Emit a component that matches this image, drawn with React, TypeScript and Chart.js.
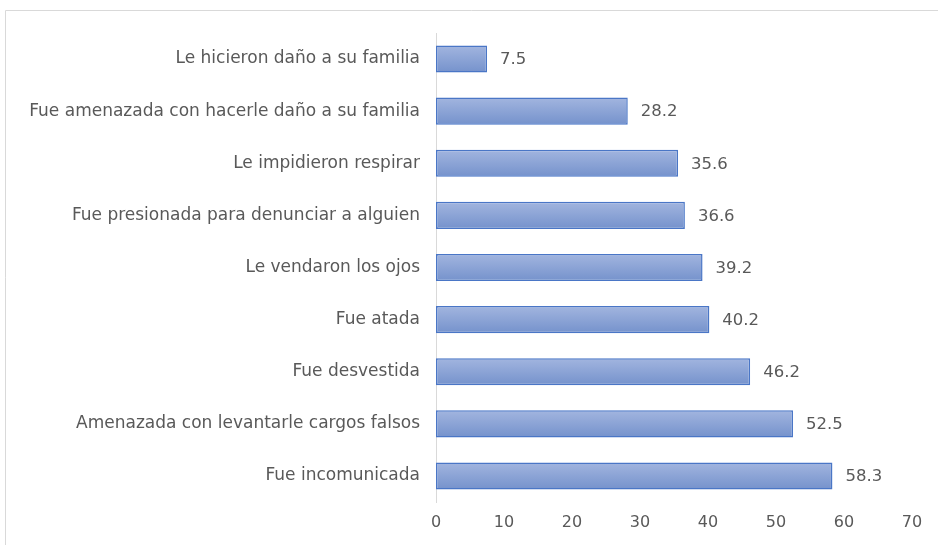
import React, { useEffect, useRef } from "react";
import { Chart, registerables } from "chart.js";

Chart.register(...registerables);

const categories = [
  "Le hicieron daño a su familia",
  "Fue amenazada con hacerle daño a su familia",
  "Le impidieron respirar",
  "Fue presionada para denunciar a alguien",
  "Le vendaron los ojos",
  "Fue atada",
  "Fue desvestida",
  "Amenazada con levantarle cargos falsos",
  "Fue incomunicada",
];
const values = [7.5, 28.2, 35.6, 36.6, 39.2, 40.2, 46.2, 52.5, 58.3];
const xTicks = [0, 10, 20, 30, 40, 50, 60, 70];

const FONT = "'DejaVu Sans', 'Open Sans', sans-serif";
const TEXT = "#595959";

const framePlugin = {
  id: "frame",
  beforeDraw(chart: any) {
    const ctx = chart.ctx;
    ctx.save();
    ctx.strokeStyle = "#d9d9d9";
    ctx.lineWidth = 1;
    ctx.beginPath();
    ctx.moveTo(5.5, chart.height);
    ctx.lineTo(5.5, 10.5);
    ctx.lineTo(chart.width, 10.5);
    ctx.stroke();
    ctx.restore();
  },
};

const gradientPlugin = {
  id: "barGradient",
  beforeDatasetsDraw(chart: any) {
    const ctx = chart.ctx;
    const meta = chart.getDatasetMeta(0);
    meta.data.forEach((el: any) => {
      const top = el.y - el.height / 2;
      const bottom = el.y + el.height / 2;
      const g = ctx.createLinearGradient(0, top, 0, bottom);
      g.addColorStop(0, "#a2b5df");
      g.addColorStop(1, "#7592cc");
      el.options = Object.assign({}, el.options, { backgroundColor: g });
    });
  },
};

const labelPlugin = {
  id: "valueLabels",
  afterDatasetsDraw(chart: any) {
    const ctx = chart.ctx;
    const meta = chart.getDatasetMeta(0);
    ctx.save();
    ctx.font = `16.5px ${FONT}`;
    ctx.fillStyle = TEXT;
    ctx.textAlign = "left";
    ctx.textBaseline = "middle";
    meta.data.forEach((el: any, i: number) => {
      ctx.fillText(values[i].toFixed(1), el.x + 13, el.y + 1);
    });
    ctx.restore();
  },
};

export default function App() {
  const ref = useRef<HTMLCanvasElement | null>(null);
  useEffect(() => {
    if (!ref.current) return;
    const chart = new Chart(ref.current, {
      type: "bar",
      data: {
        labels: categories,
        datasets: [
          {
            data: values,
            backgroundColor: "#8aa3d6",
            borderColor: "#4a76c6",
            borderWidth: 1.5,
            borderSkipped: false,
            categoryPercentage: 1,
            barPercentage: 0.52,
          },
        ],
      },
      options: {
        indexAxis: "y",
        animation: false,
        responsive: false,
        maintainAspectRatio: false,
        layout: { padding: { top: 33, right: 26, left: 10, bottom: 0 } },
        plugins: { legend: { display: false }, tooltip: { enabled: false } },
        scales: {
          x: {
            min: 0,
            max: 70,
            afterBuildTicks(scale: any) {
              scale.ticks = xTicks.map((v) => ({ value: v }));
            },
            grid: { display: false, drawTicks: false },
            border: { display: false },
            ticks: {
              color: TEXT,
              font: { family: FONT, size: 16 },
              padding: 11,
            },
            afterFit(scale: any) {
              scale.height = 43;
            },
          },
          y: {
            grid: { display: false, drawTicks: false },
            border: { display: true, color: "#d9d9d9", width: 1 },
            ticks: {
              color: TEXT,
              font: { family: FONT, size: 17 },
              padding: 16,
            },
            afterFit(scale: any) {
              scale.width = 426;
            },
          },
        },
      },
      plugins: [framePlugin, gradientPlugin, labelPlugin],
    });
    return () => chart.destroy();
  }, []);
  return (
    <div
      style={{
        position: "fixed",
        left: 0,
        top: 0,
        width: 938,
        height: 545,
        background: "#fff",
        overflow: "hidden",
      }}
    >
      <canvas ref={ref} width={938} height={545} style={{ display: "block" }} />
    </div>
  );
}
